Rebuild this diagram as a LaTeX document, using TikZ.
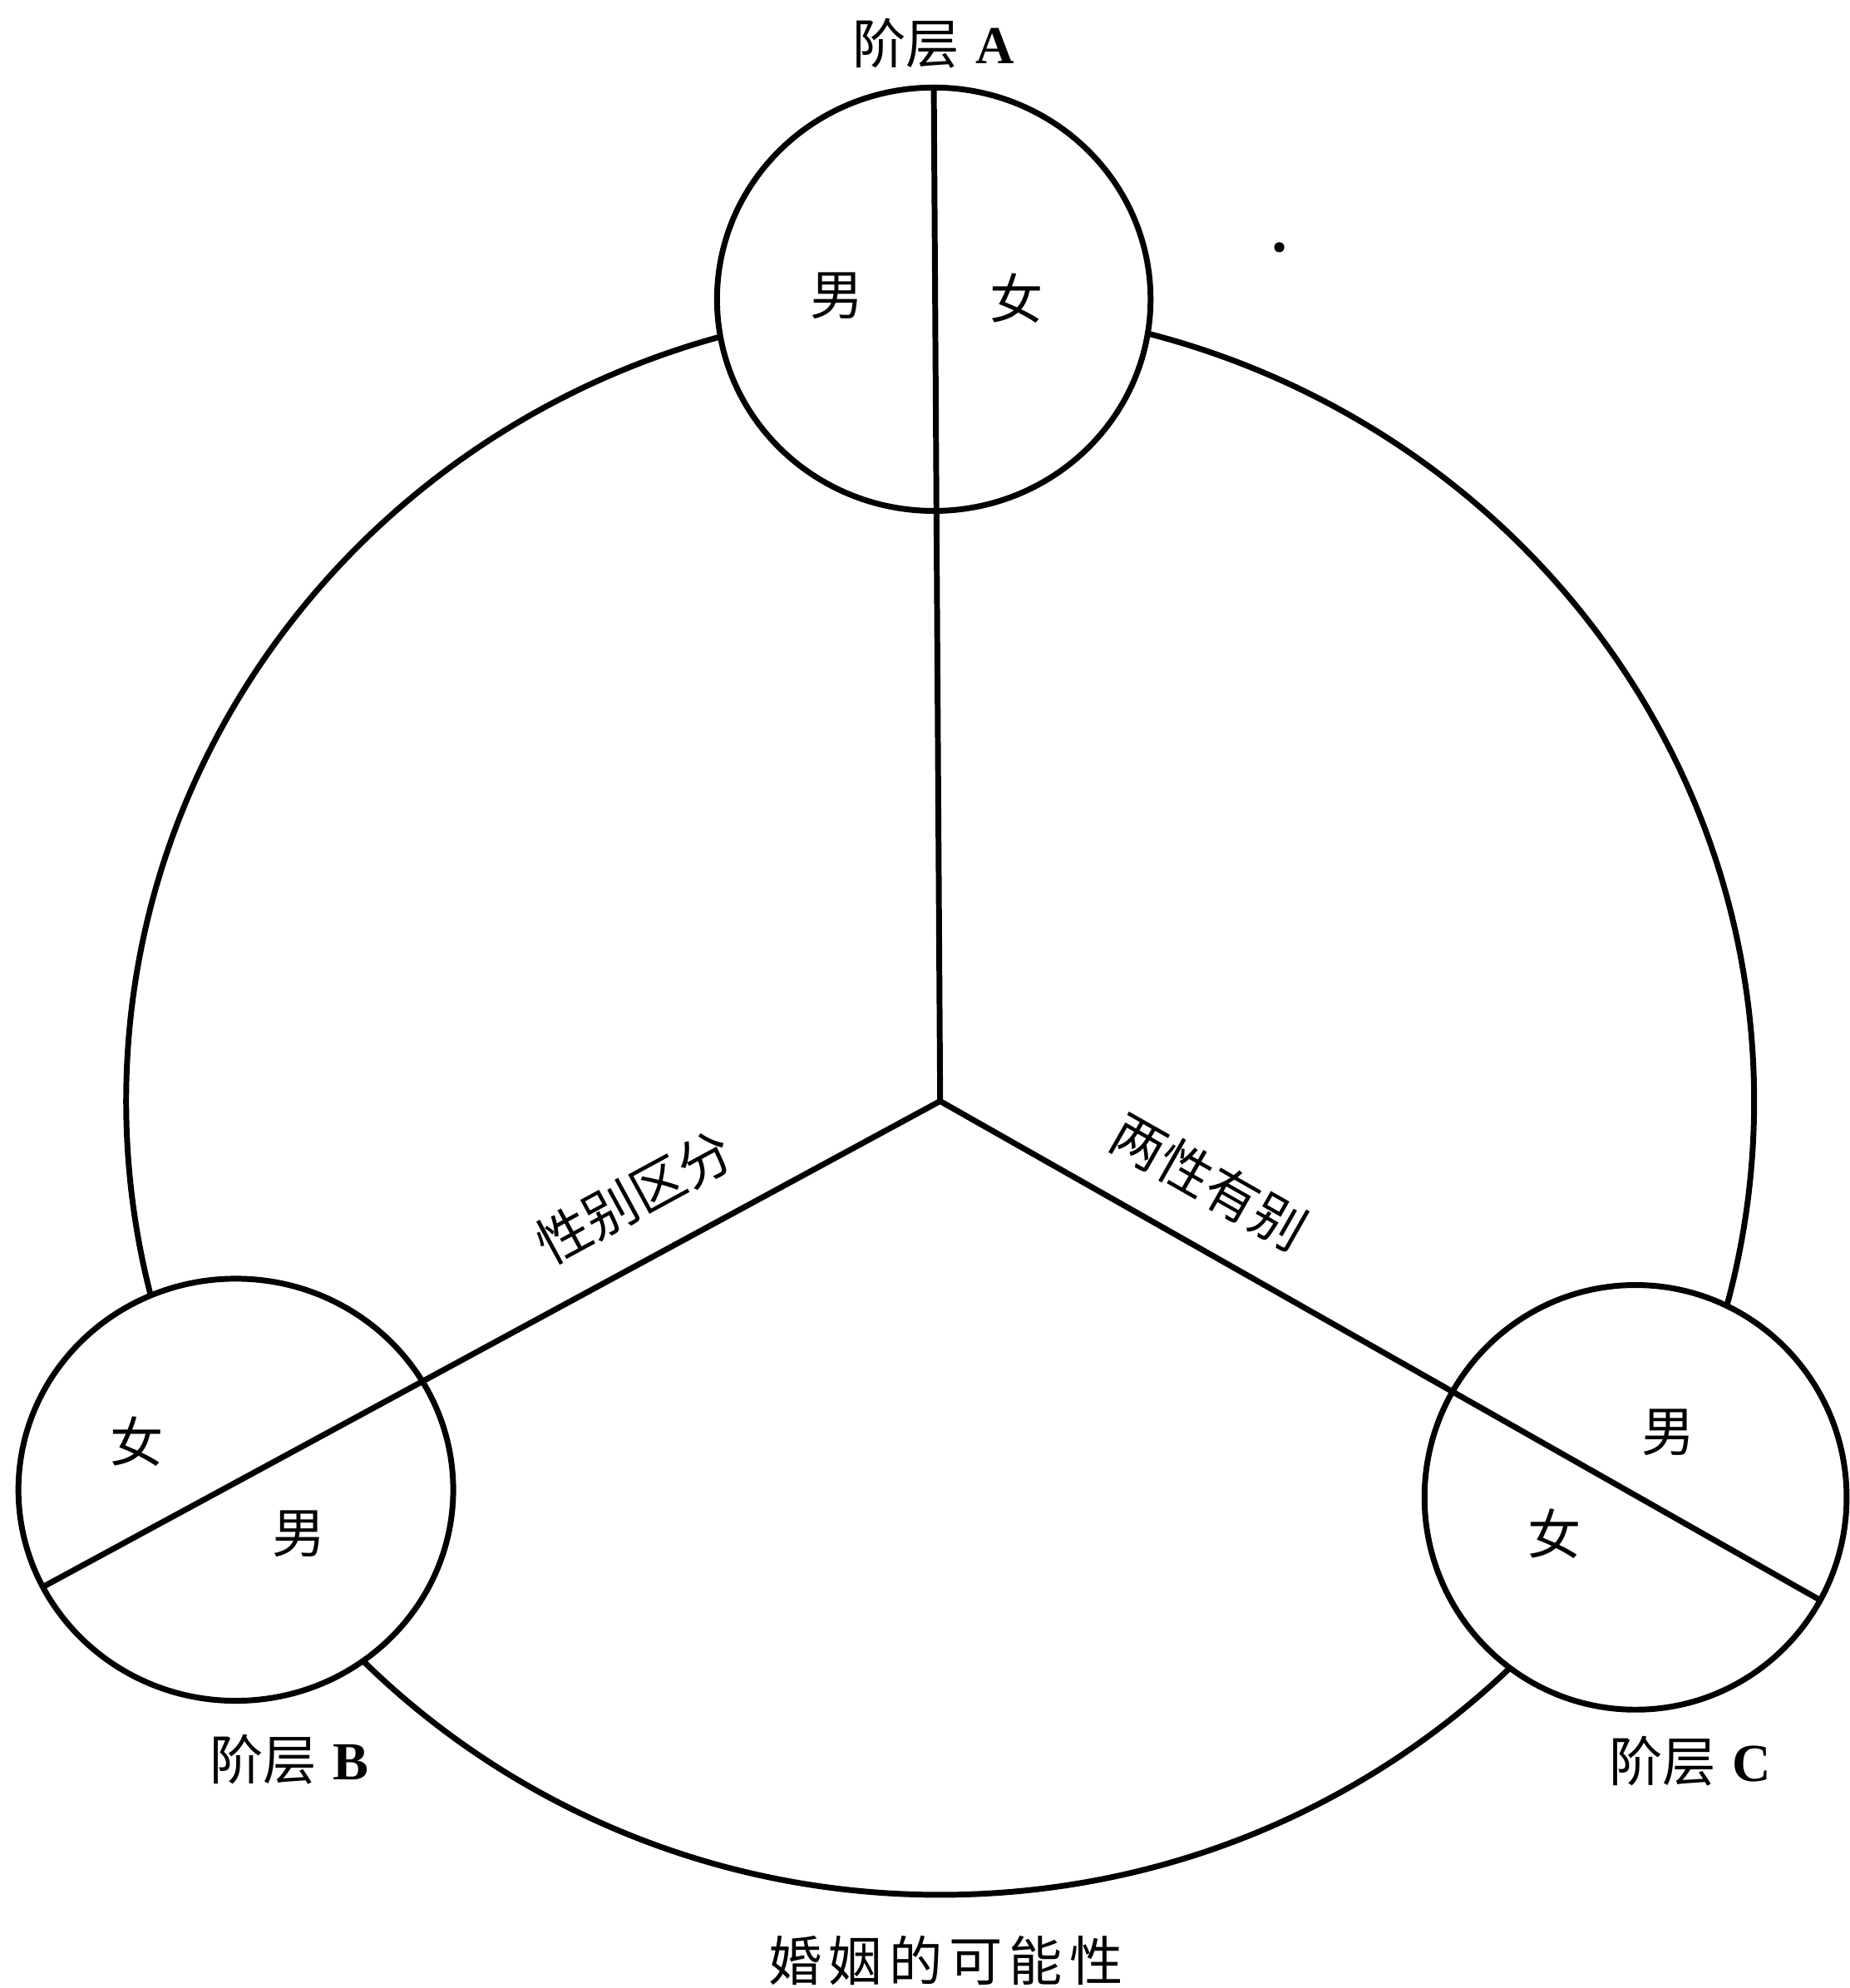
\documentclass[tikz,border=0pt]{standalone}
\usepackage{fontspec}
\newfontfamily\cjk{Noto Sans CJK SC}
\newfontfamily\latn{Liberation Serif}
\usetikzlibrary{shapes.geometric}
\begin{document}
\begin{tikzpicture}[x=0.02cm,y=-0.02cm,line width=2.6pt,
  lbl/.style={inner sep=0pt,font=\fontsize{24}{24}\selectfont\cjk},
  stratum/.style={draw,ellipse,fill=white,inner sep=0pt,line width=2.6pt}]
\useasboundingbox (0,0) rectangle (1459,1568);
\coordinate (O) at (741.5,868.5);
% outer ring (marriage possibility)
\draw (O) ellipse [x radius=642, y radius=626];
% strata circles
\node[stratum,minimum width=6.84cm,minimum height=6.68cm] (A) at (736.5,236) {};
\node[stratum,minimum width=6.86cm,minimum height=6.66cm] (B) at (186,1175) {};
\node[stratum,minimum width=6.66cm,minimum height=6.70cm] (C) at (1290,1181) {};
% dividing lines
\coordinate (Bend) at (35,1251);
\coordinate (Cend) at (1435.5,1262);
\draw (A.north) -- (O);
\draw (O) -- (Bend);
\draw (O) -- (Cend);
% labels in circles
\node[lbl] (Am) at (660,233) {男};
\node[lbl] (Af) at (802,235) {女};
\node[lbl] (Bf) at (108,1137) {女};
\node[lbl] (Bm) at (236,1210) {男};
\node[lbl] (Cm) at (1316,1130) {男};
\node[lbl] (Cf) at (1226,1210) {女};
% stratum names
\node[lbl] (tA) at (736,34) {阶层\hspace{0.3em}{\latn\bfseries A}};
\node[lbl] (tB) at (228,1388) {阶层\hspace{0.3em}{\latn\bfseries B}};
\node[lbl] (tC) at (1333,1389) {阶层\hspace{0.3em}{\latn\bfseries C}};
% line labels
\node[lbl,rotate=28.5] (sx) at (500,944) {性别区分};
\node[lbl,rotate=-29.6] (lx) at (954,932) {两性有别};
\node[lbl] (hy) at (746,1546) {婚\hspace{3pt}姻\hspace{3pt}的\hspace{3pt}可\hspace{3pt}能\hspace{3pt}性};
% stray dot
\fill (1009,195) circle [radius=4];
\end{tikzpicture}
\end{document}
